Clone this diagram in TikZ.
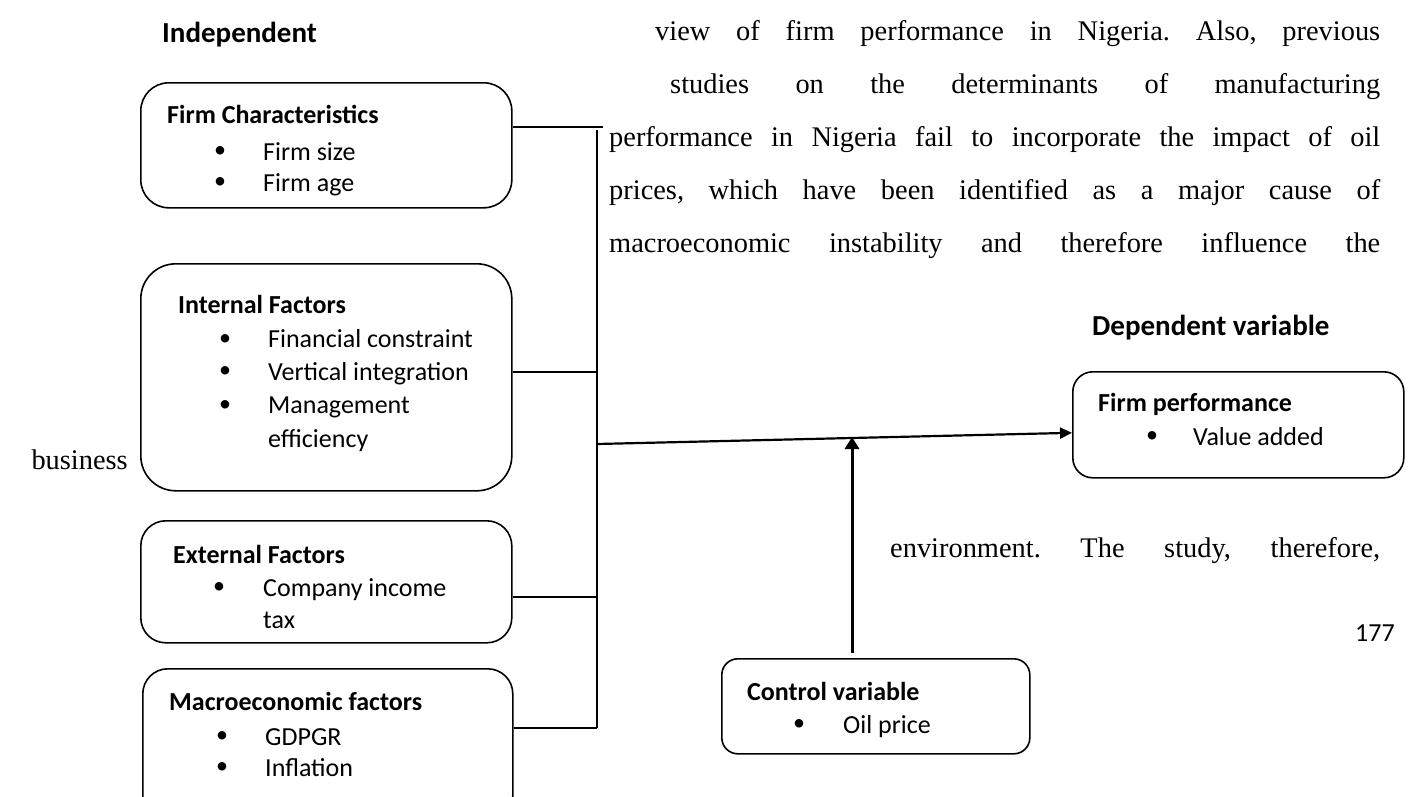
\documentclass[tikz,border=0pt]{standalone}
\usepackage{fontspec}
\setmainfont{Liberation Serif}
\newfontfamily\calfont{Carlito}
\usetikzlibrary{arrows.meta}
\frenchspacing
\begin{document}
\begin{tikzpicture}[x=1pt,y=-1pt,
  box/.style={draw,line width=1.6pt,rounded corners=#1,inner sep=0pt,anchor=north west},
  box/.default=25pt,
  t/.style={inner sep=0pt,anchor=base west,font=\calfont\fontsize{26}{31}\selectfont},
  tb/.style={inner sep=0pt,anchor=base west,font=\calfont\bfseries\fontsize{26}{31}\selectfont},
  hd/.style={inner sep=0pt,anchor=base west,font=\calfont\bfseries\fontsize{29}{34}\selectfont},
  bul/.style={inner sep=0pt,anchor=center,font=\calfont\fontsize{24}{29}\selectfont},
  ser/.style={inner sep=0pt,anchor=base west,font=\fontsize{28.4}{34}\selectfont},
  conn/.style={line width=1.6pt},
  arr/.style={line width=2.2pt,-{Triangle[length=12pt,width=11pt]}},
  varr/.style={line width=3pt,-{Triangle[length=12pt,width=14pt]}}
]
\clip (0,0) rectangle (1420,796);
\fill[white] (0,0) rectangle (1420,796);

% body text
\node[ser] (p1) at (655,40) {\makebox[725pt][s]{view of firm performance in Nigeria. Also, previous}};
\node[ser] (p2) at (670,93) {\makebox[710pt][s]{studies on the determinants of manufacturing}};
\node[ser] (p3) at (609,146) {\makebox[771pt][s]{performance in Nigeria fail to incorporate the impact of oil}};
\node[ser] (p4) at (609,199) {\makebox[771pt][s]{prices, which have been identified as a major cause of}};
\node[ser] (p5) at (609,252) {\makebox[771pt][s]{macroeconomic instability and therefore influence the}};
\node[ser,anchor=base east] (p6) at (128,469) {business};
\node[ser] (p7) at (890,557) {\makebox[490pt][s]{environment. The study, therefore,}};
\node[t] (pg) at (1355,641) {177};

% headings
\node[hd] (hind) at (162,42) {Independent};
\node[hd] (hdep) at (1092,335) {Dependent variable};

% boxes
\node[box=28pt,minimum width=371pt,minimum height=125pt] (fc) at (140,82) {};
\node[box=35pt,minimum width=371pt,minimum height=227pt] (inf) at (140,263) {};
\node[box=25pt,minimum width=371pt,minimum height=122pt] (ext) at (140,520) {};
\node[box=25pt,minimum width=370pt,minimum height=152pt] (mac) at (142,668) {};
\node[box=20pt,minimum width=331pt,minimum height=106pt] (perf) at (1072,371) {};
\node[box=16pt,minimum width=308pt,minimum height=95pt] (ctrl) at (721,658) {};

% box texts
\node[tb] (fct) at (167,123) {Firm Characteristics};
\node[bul] (fcb1) at (220,152) {•};
\node[t] (fc1) at (263,160) {Firm size};
\node[bul] (fcb2) at (220,183) {•};
\node[t] (fc2) at (263,191) {Firm age};

\node[tb] (inft) at (178,313) {Internal Factors};
\node[bul] (infb1) at (225,340) {•};
\node[t] (inf1) at (268,347) {Financial constraint};
\node[bul] (infb2) at (225,372) {•};
\node[t] (inf2) at (268,380) {Vertical integration};
\node[bul] (infb3) at (225,406) {•};
\node[t] (inf3) at (268,413) {Management};
\node[t] (inf4) at (268,447) {efficiency};

\node[tb] (extt) at (173,563) {External Factors};
\node[bul] (extb1) at (219,588) {•};
\node[t] (ext1) at (263,596) {Company income};
\node[t] (ext2) at (263,628) {tax};

\node[tb] (mact) at (169,710) {Macroeconomic factors};
\node[bul] (macb1) at (222,737) {•};
\node[t] (mac1) at (265,745) {GDPGR};
\node[bul] (macb2) at (222,768) {•};
\node[t] (mac2) at (265,776) {Inflation};

\node[tb] (perft) at (1098,411) {Firm performance};
\node[bul] (perfb1) at (1152,437) {•};
\node[t] (perf1) at (1193,445) {Value added};

\node[tb] (ctrlt) at (747,700) {Control variable};
\node[bul] (ctrlb1) at (799,725) {•};
\node[t] (ctrl1) at (843,733) {Oil price};

% connectors
\coordinate (t1) at (603,127);
\coordinate (bTop) at (597,130);
\coordinate (b2) at (597,372);
\coordinate (b3) at (597,597);
\coordinate (b4) at (597,728);
\coordinate (j) at (597,444);
\coordinate (c1) at (852,437);

\draw[conn] (t1 -| fc.east) -- (t1);
\draw[conn] (bTop) -- (b4);
\draw[conn] (b2 -| inf.east) -- (b2);
\draw[conn] (b3 -| ext.east) -- (b3);
\draw[conn] (b4 -| mac.east) -- (b4);
\draw[arr] (j) -- ([yshift=-8pt]perf.west);
\draw[varr] ([yshift=5pt]ctrl.north -| c1) -- (c1);
\end{tikzpicture}
\end{document}
